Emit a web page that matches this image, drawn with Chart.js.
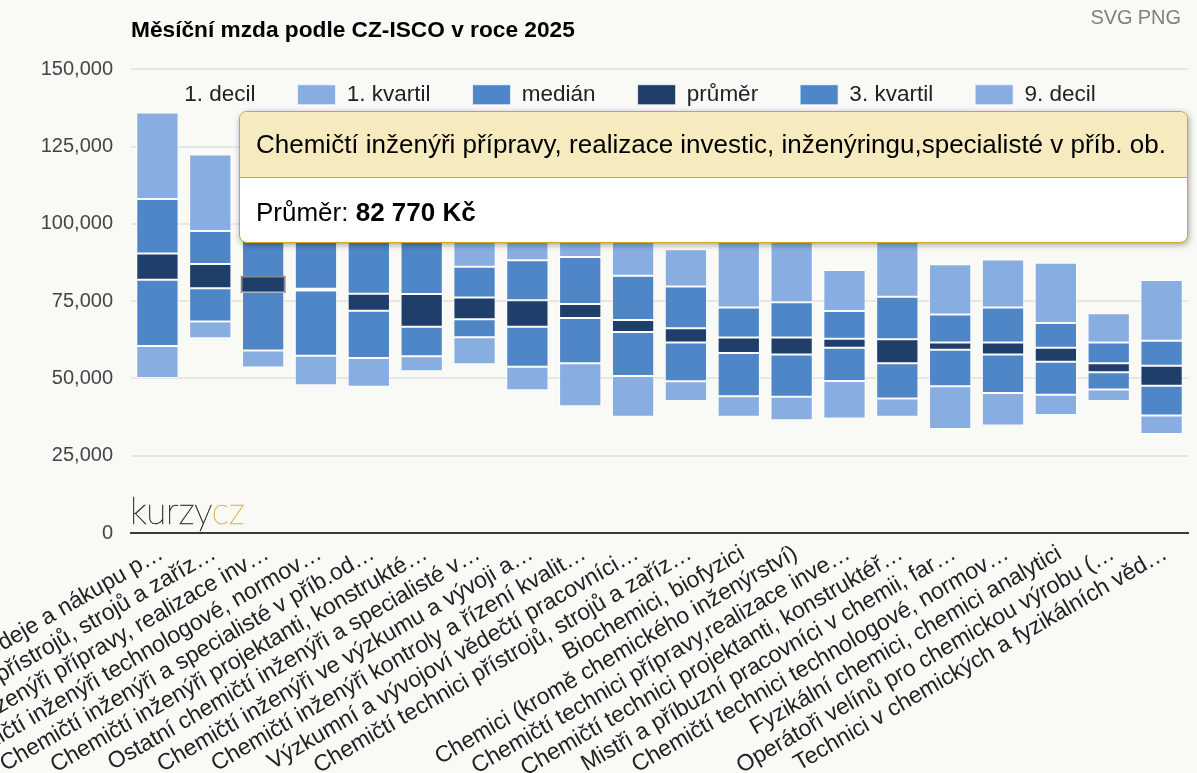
<!DOCTYPE html>
<html>
<head>
<meta charset="utf-8">
<script src="https://cdn.jsdelivr.net/npm/chart.js@4.4.1/dist/chart.umd.min.js"></script>
<style>
  html, body { margin: 0; padding: 0; background: #f9f9f5; }
  #wrap { position: relative; width: 1197px; height: 773px; overflow: hidden; background: #f9f9f5; }
  #c { position: absolute; left: 0; top: 0; }
  #exp { position: absolute; right: 16px; top: 6px; font-family: 'Liberation Sans', Arial, sans-serif; font-size: 20px; color: #808080; }
  #exp span { margin-left: 5px; }
  #logo { position: absolute; left: 130px; top: 489px; font-family: Lato, 'Open Sans', sans-serif; font-weight: 100; font-size: 37px; letter-spacing: -0.3px; color: #333; -webkit-text-stroke: 0.6px #333; line-height: 42px; }
  #logo b { font-weight: 100; color: #e0b85a; -webkit-text-stroke: 0.6px #e0b85a; }
  #tip { position: absolute; left: 239px; top: 111px; width: 947px; height: 130px; border: 1px solid #d8a41f; border-radius: 8px; background: #fff; box-shadow: 1px 2px 6px rgba(0,0,0,0.35); font-family: 'Liberation Sans', Arial, sans-serif; overflow: hidden; color: #000; }
  #tipHead { height: 66px; box-sizing: border-box; background: #f6eabf; border-bottom: 1px solid #d8a41f; display: flex; align-items: center; padding-left: 16px; font-size: 26px; white-space: nowrap; }
  #tipBody { height: 64px; display: flex; align-items: center; padding-left: 16px; padding-top: 2px; font-size: 26px; white-space: pre; }
</style>
</head>
<body>
<div id="wrap">
  <canvas id="c" width="1197" height="773"></canvas>
  <div id="exp"><span>SVG</span><span>PNG</span></div>
  <div id="logo">kurzy<b>cz</b></div>
  <div id="tip"><div id="tipHead"></div><div id="tipBody"></div></div>
</div>
<script>
// ---- data ----
const chartTitle = 'Měsíční mzda podle CZ-ISCO v roce 2025';
const categories = [
  'Chemičtí inženýři prodeje a nákupu p…',
  'Chemičtí inženýři přístrojů, strojů a zaříz…',
  'Chemičtí inženýři přípravy, realizace inv…',
  'Chemičtí inženýři technologové, normov…',
  'Chemičtí inženýři a specialisté v příb.od…',
  'Chemičtí inženýři projektanti, konstrukté…',
  'Ostatní chemičtí inženýři a specialisté v…',
  'Chemičtí inženýři ve výzkumu a vývoji a…',
  'Chemičtí inženýři kontroly a řízení kvalit…',
  'Výzkumní a vývojoví vědečtí pracovníci…',
  'Chemičtí technici přístrojů, strojů a zaříz…',
  'Biochemici, biofyzici',
  'Chemici (kromě chemického inženýrství)',
  'Chemičtí technici přípravy,realizace inve…',
  'Chemičtí technici projektanti, konstruktéř…',
  'Mistři a příbuzní pracovníci v chemii, far…',
  'Chemičtí technici technologové, normov…',
  'Fyzikální chemici, chemici analytici',
  'Operátoři velínů pro chemickou výrobu (…',
  'Technici v chemických a fyzikálních věd…'
];
const seriesNames = ['1. decil', '1. kvartil', 'medián', 'průměr', '3. kvartil', '9. decil'];
const decil1   = [50100, 63000, 53500, 47800, 47300, 52300, 54600, 46200, 41000, 37600, 42700, 37600, 36500, 37000, 37600, 33600, 34800, 38200, 42700, 32000];
const kvartil1 = [60500, 68400, 59000, 57300, 56600, 57200, 63300, 53800, 54900, 50800, 49100, 44200, 44100, 49200, 43500, 47500, 45300, 44700, 46400, 38000];
const median   = [81900, 79200, 78000, 78400, 71900, 66700, 69100, 66700, 69500, 65000, 61600, 58200, 57700, 59900, 54900, 59300, 57700, 55400, 52000, 47600];
const prumer   = [90400, 87000, 82770, 79000, 77400, 77300, 76200, 75300, 74100, 68900, 66200, 63200, 63200, 62800, 62700, 61600, 61600, 59900, 54900, 54100];
const kvartil3 = [108000, 97700, 99000, 97000, 95000, 96000, 86100, 88200, 89300, 83200, 79700, 72900, 74600, 71800, 76400, 70700, 72900, 67900, 61600, 62200];
const decil9   = [136000, 122400, 118000, 116000, 112000, 115000, 104000, 101000, 99000, 100000, 91800, 97000, 98000, 85100, 102000, 86900, 88500, 87400, 71100, 81800];
const yTicks = { min: 0, max: 150000, step: 25000 };
const activeIndex = 2;
const activeFullName = 'Chemičtí inženýři přípravy, realizace investic, inženýringu,specialisté v příb. ob.';

// ---- styles ----
const LIGHT = '#88aee1', MID = '#4f86c7', DARK = '#1f3e6a';
const fills = ['rgba(0,0,0,0)', LIGHT, MID, DARK, MID, LIGHT];
const FONT = "'Liberation Sans', Arial, sans-serif";

const levels = [decil1, kvartil1, median, prumer, kvartil3, decil9];
const datasets = seriesNames.map((name, k) => ({
  label: name,
  data: levels[k].map((v, i) => k === 0 ? v : v - levels[k - 1][i]),
  backgroundColor: fills[k],
  borderColor: k === 0 ? 'rgba(0,0,0,0)' : (ctx) => (k === 3 && ctx.dataIndex === activeIndex) ? '#8a8a8a' : 'rgba(255,255,255,0.7)',
  borderWidth: k === 0 ? 0 : (ctx) => (k === 3 && ctx.dataIndex === activeIndex) ? 2 : 1,
  inflateAmount: (ctx) => (k === 3 && ctx.dataIndex === activeIndex) ? 1.5 : 0,
  borderSkipped: false,
  categoryPercentage: 0.8,
  barPercentage: 1
}));

const LEG_PAD = 42;
const moveLegend = {
  id: 'moveLegend',
  afterLayout(chart) {
    const L = chart.legend;
    L.left = 135 - LEG_PAD;
    L.right = 1197;
    L.width = L.right - L.left;
    L.top = 41.5;
    L.height = 80;
    L.bottom = L.top + L.height;
  }
};

new Chart(document.getElementById('c'), {
  type: 'bar',
  data: { labels: categories, datasets },
  plugins: [moveLegend],
  options: {
    responsive: false,
    animation: false,
    devicePixelRatio: 1,
    locale: 'en-US',
    events: [],
    layout: { padding: { left: 0, right: 9, top: 0, bottom: 0 } },
    plugins: {
      title: {
        display: true, text: chartTitle, align: 'start', fullSize: false,
        color: '#000', font: { family: FONT, size: 22.7, weight: 'bold' },
        padding: { top: 17, bottom: 24 }
      },
      legend: {
        display: true, position: 'top', align: 'start', maxHeight: 1,
        labels: {
          boxWidth: 38, boxHeight: 20, padding: LEG_PAD, color: '#222',
          font: { family: FONT, size: 22.5 }
        }
      },
      tooltip: { enabled: false }
    },
    scales: {
      x: {
        stacked: true,
        grid: { display: false, drawTicks: false },
        border: { display: true, color: '#3a3a3a', width: 2 },
        ticks: {
          autoSkip: false, minRotation: 30, maxRotation: 30,
          color: '#222', font: { family: FONT, size: 23 }, padding: 7, labelOffset: 4
        },
        afterFit(s) { s.height = 240; s.paddingLeft = 0; s.paddingRight = 0; }
      },
      y: {
        stacked: true, min: yTicks.min, max: yTicks.max,
        grid: { color: '#e6e6e2', lineWidth: 2, drawTicks: false },
        border: { display: false },
        ticks: { stepSize: yTicks.step, color: '#444', font: { family: FONT, size: 20 }, padding: 18 },
        afterFit(s) { s.width = 131; }
      }
    }
  }
});

// tooltip box (hover state of the reference)
const fmt = (n) => String(n).replace(/\B(?=(\d{3})+(?!\d))/g, '\u00a0') + '\u00a0Kč';
document.getElementById('tipHead').textContent = activeFullName;
const body = document.getElementById('tipBody');
body.textContent = 'Průměr: ';
const strong = document.createElement('b');
strong.textContent = fmt(prumer[activeIndex]);
body.appendChild(strong);
</script>
</body>
</html>
